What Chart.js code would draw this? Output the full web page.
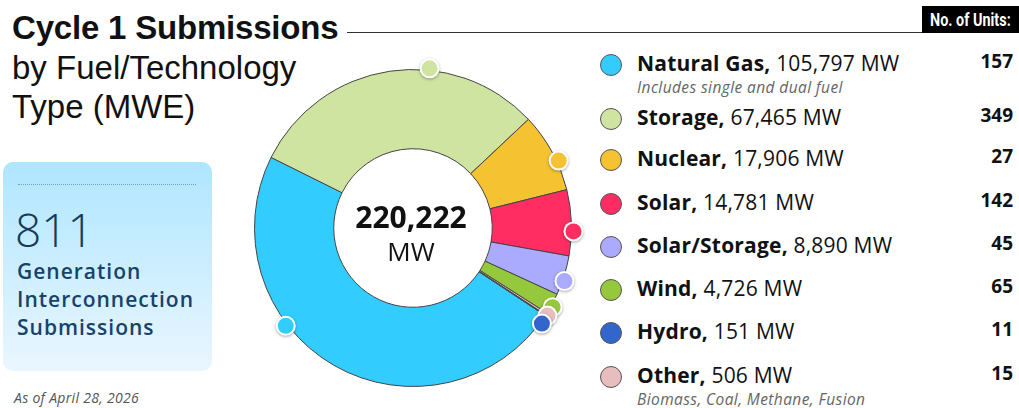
<!DOCTYPE html>
<html>
<head>
<meta charset="utf-8">
<script src="https://cdn.jsdelivr.net/npm/chart.js@4"></script>
<style>
  body { margin: 0; width: 1019px; height: 408px; background: #fff; position: relative; overflow: hidden; font-family: "Open Sans", sans-serif; }
  .title { position: absolute; left: 12px; top: 8px; font-family: "Liberation Sans", Arial, sans-serif; color: #111; }
  .title .t1 { font-size: 33px; font-weight: bold; line-height: 40px; letter-spacing: -0.2px; }
  .title .t2 { font-size: 33px; line-height: 39px; }
  .rule { position: absolute; left: 347px; top: 32px; width: 576px; height: 0; border-top: 1.5px solid #333; }
  .units-head { position: absolute; left: 922px; top: 6px; width: 97px; height: 27px; background: #000; color: #fff;
    font-family: "Roboto", sans-serif; font-weight: bold; font-size: 18px; line-height: 27px; text-align: center; white-space: nowrap; }
  .units-head span { display: inline-block; transform: scaleX(0.8); transform-origin: center; margin-left: -20px; margin-right: -20px; }
  .box { position: absolute; left: 3px; top: 162px; width: 209px; height: 209px; border-radius: 10px;
    background: linear-gradient(#aee6ff, #eaf6ff); }
  .box .dots { position: absolute; left: 15px; top: 22px; width: 178px; border-top: 1px dotted #8a9aa6; }
  .box .big { position: absolute; left: 12px; top: 36px; font-size: 46px; font-weight: 300; color: #17395a; }
  .box .sub { position: absolute; left: 14px; top: 95px; font-size: 21px; font-weight: 600; line-height: 28px; letter-spacing: 1px; color: #17426a; }
  .asof { position: absolute; left: 14px; top: 388px; font-size: 14px; font-style: italic; color: #555; letter-spacing: 0.3px; }
  #wrap { position: absolute; left: 235px; top: 50px; width: 356px; height: 356px; }
  .legend { position: absolute; left: 0; top: 0; }
  .row { position: absolute; left: 600px; width: 416px; }
  .row .sw { position: absolute; left: 0; width: 22px; height: 22px; border-radius: 50%; border: 1px solid #555; box-sizing: border-box; }
  .row .lab { position: absolute; left: 37px; white-space: nowrap; font-size: 21px; letter-spacing: 0.2px; color: #111; }
  .row .lab b { font-weight: 700; }
  .row .note { position: absolute; left: 37px; white-space: nowrap; font-size: 15.5px; font-style: italic; color: #666; letter-spacing: 0.4px; }
  .row .cnt { position: absolute; right: 3px; font-size: 19px; font-weight: 700; color: #111; }
</style>
</head>
<body>
<div class="title"><div class="t1">Cycle 1 Submissions</div><div class="t2">by Fuel/Technology<br>Type (MWE)</div></div>
<div class="rule"></div>
<div class="units-head"><span>No. of Units:</span></div>
<div class="box">
  <div class="dots"></div>
  <div class="big">811</div>
  <div class="sub">Generation<br>Interconnection<br>Submissions</div>
</div>
<div class="asof">As of April 28, 2026</div>
<div id="wrap"><canvas id="donut"></canvas></div>
<div class="legend" id="legend"></div>
<script>
const categories = ['Natural Gas', 'Storage', 'Nuclear', 'Solar', 'Solar/Storage', 'Wind', 'Hydro', 'Other'];
const capacityMW = [105797, 67465, 17906, 14781, 8890, 4726, 151, 506];
const unitCounts = [157, 349, 27, 142, 45, 65, 11, 15];
const notes = ['Includes single and dual fuel', '', '', '', '', '', '', 'Biomass, Coal, Methane, Fusion'];
const colors = ['#33ccff', '#cfe4a1', '#f5c231', '#ff2d62', '#aaaaff', '#95c83c', '#3366cc', '#e8bdbd'];
// the ring draws Other before Hydro
const sliceOrder = [0, 1, 2, 3, 4, 5, 7, 6];

const total = capacityMW.reduce((a, b) => a + b, 0);
const fmt = n => n.toLocaleString('en-US');

// legend rows (top of each row in px)
const rowTops = [54, 108, 149, 193, 236, 279, 322, 366];
const legend = document.getElementById('legend');
categories.forEach((c, i) => {
  const row = document.createElement('div');
  row.className = 'row';
  row.style.top = rowTops[i] + 'px';
  row.innerHTML =
    '<div class="sw" style="top:0px;background:' + colors[i] + '"></div>' +
    '<div class="lab" style="top:-5px"><b>' + c + ',</b> ' + fmt(capacityMW[i]) + ' MW</div>' +
    (notes[i] ? '<div class="note" style="top:22px">' + notes[i] + '</div>' : '') +
    '<div class="cnt" style="top:-6px">' + unitCounts[i] + '</div>';
  legend.appendChild(row);
});

const centerText = {
  id: 'centerText',
  afterDraw(chart) {
    const { ctx } = chart;
    const arc = chart.getDatasetMeta(0).data[0];
    ctx.save();
    ctx.textAlign = 'center';
    ctx.textBaseline = 'middle';
    ctx.fillStyle = '#111';
    ctx.font = 'bold 30px "Open Sans"';
    ctx.fillText(fmt(total), arc.x - 2, arc.y - 9);
    ctx.font = '26px "Open Sans"';
    ctx.fillText('MW', arc.x - 2, arc.y + 26);
    ctx.restore();
  }
};

const sliceDots = {
  id: 'sliceDots',
  afterDatasetsDraw(chart, args, opts) {
    const { ctx } = chart;
    let prev = -Infinity;
    ctx.save();
    chart.getDatasetMeta(0).data.forEach((arc, i) => {
      let a = arc.startAngle + opts.along * (arc.endAngle - arc.startAngle);
      if (a < prev + opts.minGap) a = prev + opts.minGap;
      prev = a;
      const r = arc.outerRadius + 2;
      const x = arc.x + r * Math.cos(a), y = arc.y + r * Math.sin(a);
      ctx.shadowColor = 'rgba(0,0,0,0.35)';
      ctx.shadowBlur = 3;
      ctx.shadowOffsetY = 1;
      ctx.beginPath();
      ctx.arc(x, y, 10, 0, Math.PI * 2);
      ctx.fillStyle = '#fff';
      ctx.fill();
      ctx.shadowColor = 'transparent';
      ctx.beginPath();
      ctx.arc(x, y, 8, 0, Math.PI * 2);
      ctx.fillStyle = chart.data.datasets[0].backgroundColor[i];
      ctx.fill();
    });
    ctx.restore();
  }
};

new Chart(document.getElementById('donut'), {
  type: 'doughnut',
  data: {
    labels: sliceOrder.map(i => categories[i]),
    datasets: [{
      data: sliceOrder.map(i => capacityMW[i]),
      backgroundColor: sliceOrder.map(i => colors[i]),
      borderColor: '#444',
      borderWidth: 1
    }]
  },
  options: {
    responsive: true,
    maintainAspectRatio: false,
    animation: false,
    rotation: 123.5,
    cutout: '50%',
    layout: { padding: 19 },
    plugins: {
      legend: { display: false },
      tooltip: { enabled: false },
      sliceDots: { along: 0.63, minGap: 3.5 * Math.PI / 180 }
    }
  },
  plugins: [sliceDots, centerText]
});
</script>
</body>
</html>
